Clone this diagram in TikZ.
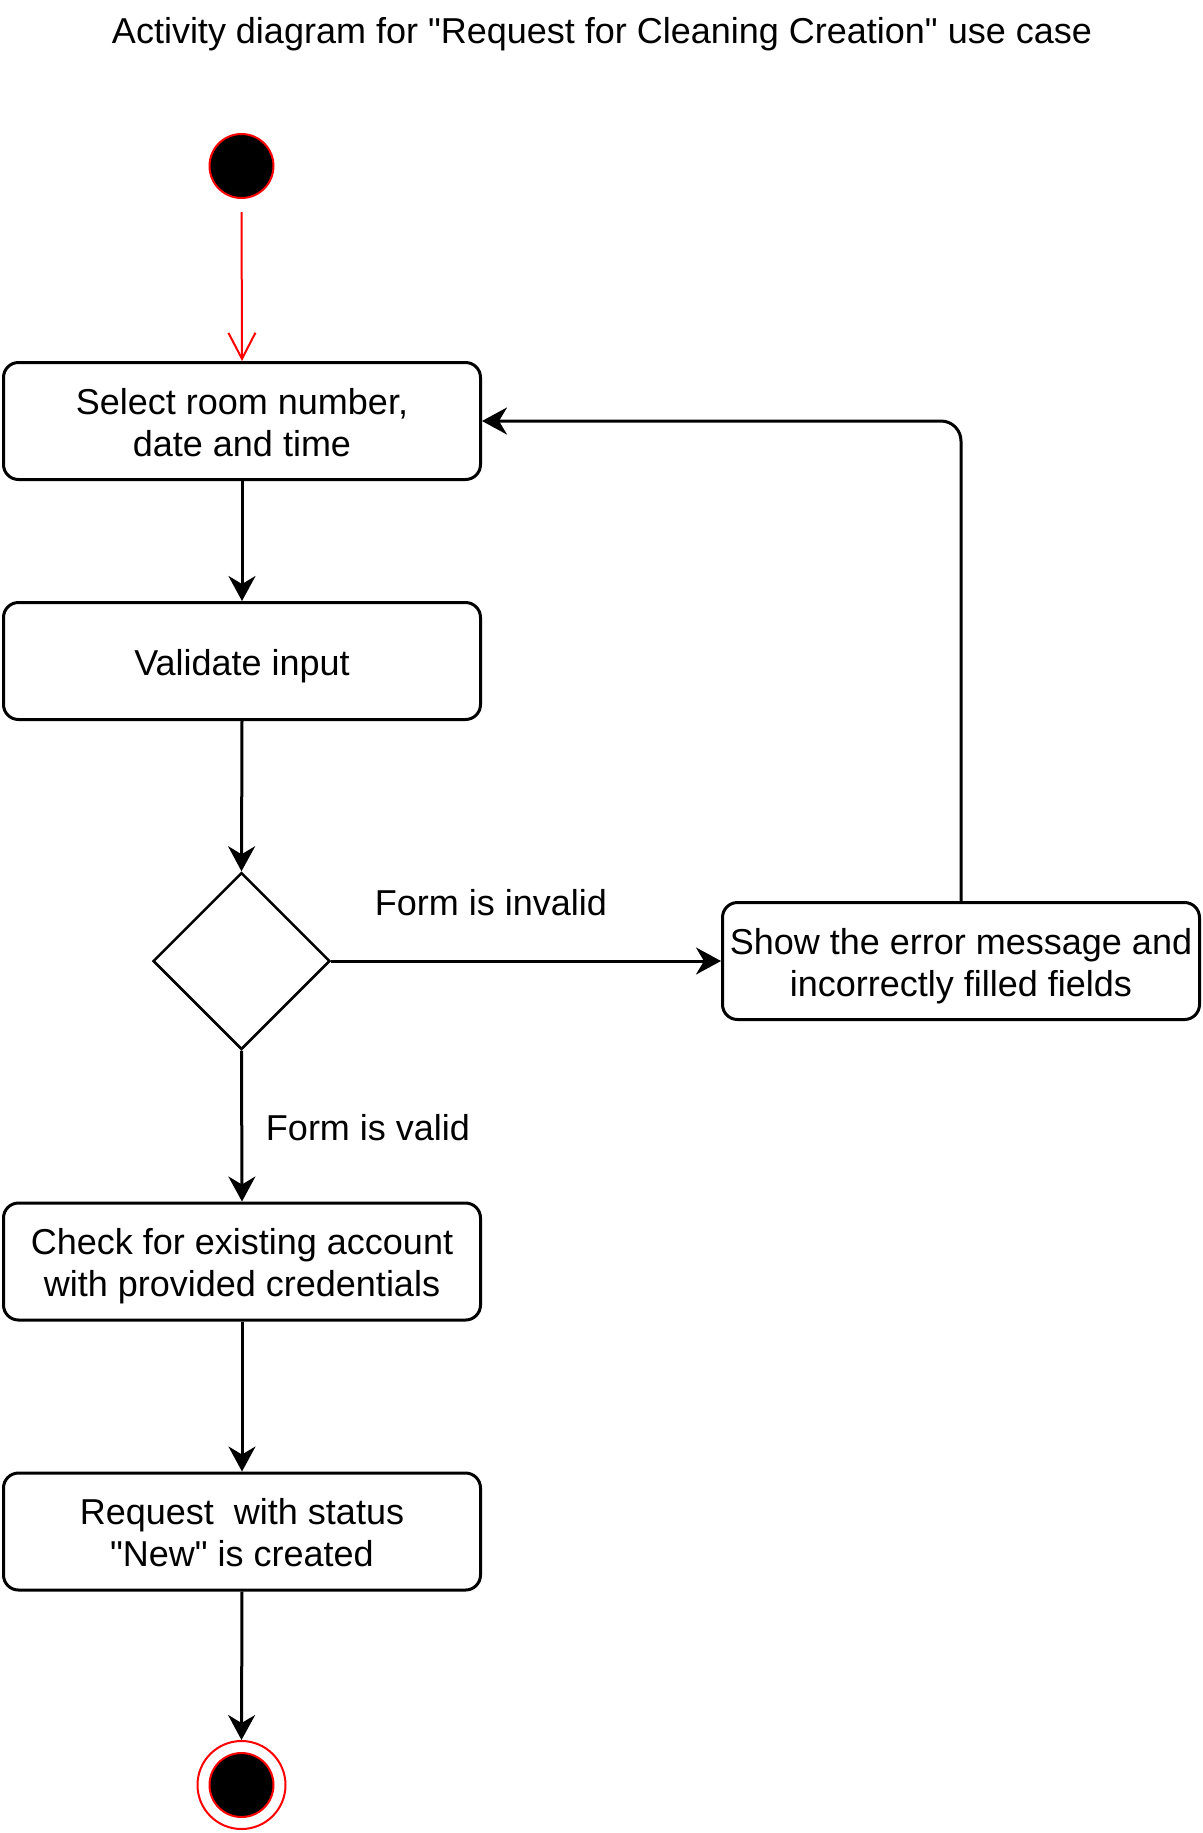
\documentclass[tikz,border=0pt]{standalone}
\usepackage{fontspec}
\setmainfont{Liberation Sans}[Ligatures=TeXOff]
\usetikzlibrary{shapes.geometric,arrows.meta}
\begin{document}
\begin{tikzpicture}[x=0.5pt,y=-0.5pt,
  txt/.style={font=\fontsize{18}{21}\selectfont},
  actbox/.style={draw, line width=1.5pt, rounded corners=7.5pt, minimum width=238.5pt, minimum height=58.5pt, align=center, inner sep=0pt, txt, text height=36.4pt, text depth=1pt},
  oneline/.style={text height=15.5pt, text depth=1pt},
  flow/.style={line width=1.5pt, -{Stealth[length=12.5pt,width=13.5pt,inset=4pt]}},
  initflow/.style={draw=red, line width=1pt, -{Straight Barb[length=13pt,width=13.5pt,line width=1pt]}}
]
\useasboundingbox (0,0) rectangle (1203,1833);
\node[txt, anchor=base] (title) at (602,43) {Activity diagram for "Request for Cleaning Creation" use case};
\node[circle, draw=red, fill=black, line width=1pt, minimum size=32pt, inner sep=0pt] (start) at (241.5,166) {};
\node[actbox] (b1) at (242,421) {Select room number,\\date and time};
\node[actbox, oneline] (b2) at (242,661) {Validate input};
\node[diamond, draw, line width=1.25pt, minimum width=88.5pt, minimum height=88.5pt, inner sep=0pt] (dec) at (241.5,961) {};
\node[actbox] (err) at (961,961) {Show the error message and\\incorrectly filled fields};
\node[actbox] (b3) at (242,1261.5) {Check for existing account\\with provided credentials};
\node[actbox] (b4) at (242,1531.5) {Request\ \ with status\\"New" is created};
\node[circle, draw=red, line width=1pt, minimum size=44pt, inner sep=0pt] (endo) at (241.5,1785) {};
\node[circle, draw=red, fill=black, line width=1pt, minimum size=32pt, inner sep=0pt] (endi) at (241.5,1785) {};
\node[txt, anchor=base] (linv) at (491,915) {Form is invalid};
\node[txt, anchor=base] (lval) at (368,1140) {Form is valid};
\draw[initflow, shorten <=6.5pt] (start.south) -- (b1.north);
\draw[flow] (b1.south) -- (b2.north);
\draw[flow] (b2.south) -- (dec.north);
\draw[flow] (dec.east) -- (err.west);
\draw[flow, rounded corners=10pt] (err.north) |- (b1.east);
\draw[flow] (dec.south) -- (b3.north);
\draw[flow] (b3.south) -- (b4.north);
\draw[flow] (b4.south) -- (endo.north);
\end{tikzpicture}
\end{document}
